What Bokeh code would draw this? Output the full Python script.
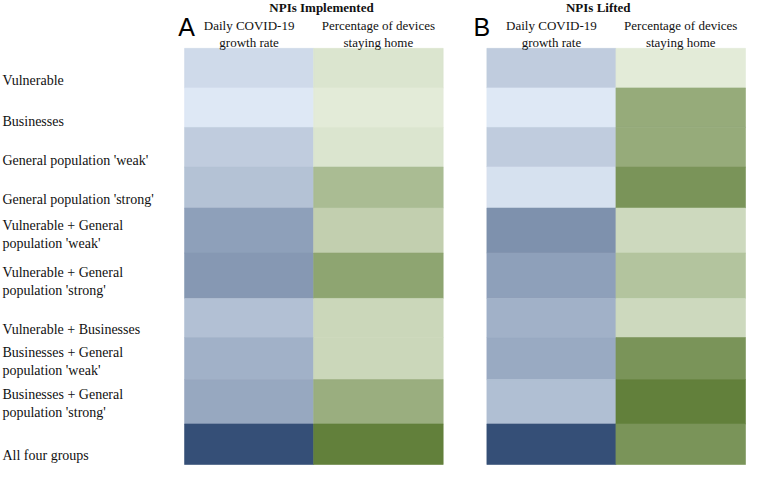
from bokeh.plotting import figure
from bokeh.models import Range1d, ColumnDataSource, LinearColorMapper
from bokeh.core.properties import value
from bokeh.transform import transform
from bokeh.embed import file_html
from bokeh.resources import INLINE

# ---------------- data ----------------
groups = [
    "Vulnerable",
    "Businesses",
    "General population 'weak'",
    "General population 'strong'",
    "Vulnerable + General population 'weak'",
    "Vulnerable + General population 'strong'",
    "Vulnerable + Businesses",
    "Businesses + General population 'weak'",
    "Businesses + General population 'strong'",
    "All four groups",
]
# wrapped label lines as printed
group_lines = [
    ["Vulnerable"],
    ["Businesses"],
    ["General population 'weak'"],
    ["General population 'strong'"],
    ["Vulnerable + General", "population 'weak'"],
    ["Vulnerable + General", "population 'strong'"],
    ["Vulnerable + Businesses"],
    ["Businesses + General", "population 'weak'"],
    ["Businesses + General", "population 'strong'"],
    ["All four groups"],
]
panels = ["NPIs Implemented", "NPIs Lifted"]
panel_letters = ["A", "B"]
measures = [["Daily COVID-19", "growth rate"], ["Percentage of devices", "staying home"]]

# relative intensity (0 = lightest, 1 = darkest), read from the shading
implemented_growth = [0.09, 0.00, 0.18, 0.25, 0.47, 0.52, 0.26, 0.36, 0.42, 1.00]
implemented_home   = [0.06, 0.00, 0.06, 0.44, 0.26, 0.66, 0.19, 0.19, 0.57, 1.00]
lifted_growth      = [0.18, 0.00, 0.18, 0.05, 0.57, 0.47, 0.36, 0.41, 0.27, 1.00]
lifted_home        = [0.00, 0.60, 0.60, 0.81, 0.17, 0.37, 0.17, 0.81, 1.00, 0.81]

# ---------------- layout (reference pixel space) ----------------
row_top = 49.0
row_heights = [40.5, 40.5, 40.5, 42.0, 46.0, 46.5, 40.0, 43.0, 45.5, 41.5]
panel_cols = [(187.5, 319.0, 451.0), (495.5, 627.0, 759.0)]
label_center_y = [82, 124, 164, 204, 240, 287.5, 337, 370, 413, 466]
line_gap = 18.5
title_pos = [(327, 7), (609, 7)]
letter_pos = [(181, 27), (482, 27)]
header_y = [26, 43]


def ramp(c0, c1, n=256):
    out = []
    for i in range(n):
        t = i / (n - 1)
        r, g, b = (round(a + (bb - a) * t) for a, bb in zip(c0, c1))
        out.append("#%02x%02x%02x" % (r, g, b))
    return out


blues = ramp((222, 232, 245), (53, 79, 119))
greens = ramp((227, 235, 216), (98, 128, 59))
blue_map = LinearColorMapper(palette=blues, low=0, high=1)
green_map = LinearColorMapper(palette=greens, low=0, high=1)

edges = [row_top]
for h in row_heights:
    edges.append(edges[-1] + h)

p = figure(width=746, height=465, x_range=Range1d(0, 760), y_range=Range1d(476, 0),
           output_backend="svg", toolbar_location=None, min_border=0,
           x_axis_location=None, y_axis_location=None)
p.xgrid.visible = False
p.ygrid.visible = False
p.outline_line_color = None
p.background_fill_color = "white"

series = [(implemented_growth, implemented_home), (lifted_growth, lifted_home)]
for (growth, home), (x0, xm, x1) in zip(series, panel_cols):
    for vals, (l, r), cmap in [(growth, (x0, xm), blue_map), (home, (xm, x1), green_map)]:
        src = ColumnDataSource(dict(
            left=[l] * len(vals), right=[r] * len(vals),
            top=edges[:-1], bottom=edges[1:], v=vals))
        p.quad(left="left", right="right", top="top", bottom="bottom", source=src,
               fill_color=transform("v", cmap), line_color=transform("v", cmap),
               line_width=0.6)

serif = value("Liberation Serif")
ink = "#111111"

# row labels
lx, ly, lt = [], [], []
for lines, cy in zip(group_lines, label_center_y):
    n = len(lines)
    for i, s in enumerate(lines):
        lx.append(2)
        ly.append(cy + (i - (n - 1) / 2) * line_gap)
        lt.append(s)
p.text(x="x", y="y", text="t", source=ColumnDataSource(dict(x=lx, y=ly, t=lt)),
       text_font=serif, text_font_size=value("14px"), text_color=ink,
       text_align="left", text_baseline="middle")

# column headers
hx, hy, ht = [], [], []
for (x0, xm, x1) in panel_cols:
    for (l, r), lines in zip([(x0, xm), (xm, x1)], measures):
        for s, yy in zip(lines, header_y):
            hx.append((l + r) / 2)
            hy.append(yy)
            ht.append(s)
p.text(x="x", y="y", text="t", source=ColumnDataSource(dict(x=hx, y=hy, t=ht)),
       text_font=serif, text_font_size=value("13px"), text_color=ink,
       text_align="center", text_baseline="middle")

# panel titles
p.text(x=[t[0] for t in title_pos], y=[t[1] for t in title_pos], text=panels,
       text_font=serif, text_font_size=value("13px"), text_font_style="bold",
       text_color=ink, text_align="center", text_baseline="middle")

# panel letters
p.text(x=[t[0] for t in letter_pos], y=[t[1] for t in letter_pos], text=panel_letters,
       text_font=value("Liberation Sans"), text_font_size=value("25px"),
       text_color="#000000", text_align="left", text_baseline="alphabetic")

open("out.html", "w").write(file_html(p, INLINE))
